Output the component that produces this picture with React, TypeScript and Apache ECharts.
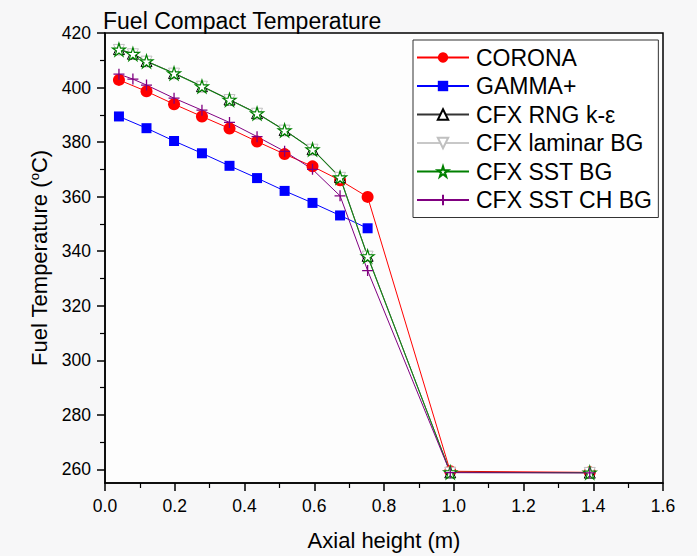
import React, { useEffect, useRef } from "react";
import * as echarts from "echarts";

// ---- data ----
const xMain = [0.04, 0.119, 0.198, 0.278, 0.357, 0.436, 0.515, 0.595, 0.674, 0.753, 0.99, 1.39];
const xGamma = [0.04, 0.119, 0.198, 0.278, 0.357, 0.436, 0.515, 0.595, 0.674, 0.753];
const xCfx = [0.04, 0.08, 0.119, 0.198, 0.278, 0.357, 0.436, 0.515, 0.595, 0.674, 0.753, 0.99, 1.39];

const corona = [402.8, 398.6, 393.9, 389.4, 385.0, 380.2, 375.6, 371.1, 366.0, 359.9, 259.3, 258.9];
const gamma = [389.4, 385.1, 380.4, 375.9, 371.3, 366.8, 362.1, 357.7, 353.1, 348.4];
const cfxRng = [414.1, 412.4, 409.7, 405.3, 400.5, 395.6, 390.6, 384.4, 377.4, 367.2, 338.3, 258.9, 258.8];
const cfxLaminar = [413.8, 412.2, 409.5, 405.1, 400.3, 395.4, 390.4, 384.2, 377.2, 366.9, 338.0, 258.8, 258.7];
const cfxSst = [413.9, 412.3, 409.6, 405.2, 400.4, 395.5, 390.5, 384.3, 377.3, 367.0, 338.1, 258.9, 258.8];
const cfxSstCh = [404.9, 403.1, 400.9, 396.1, 391.7, 387.2, 382.0, 376.6, 370.0, 360.3, 332.9, 258.8, 258.7];

const yMajorTicks = [260, 280, 300, 320, 340, 360, 380, 400, 420];
const yMinorTicks = [270, 290, 310, 330, 350, 370, 390, 410];

const FONT = "'Liberation Sans', Arial, sans-serif";

const STAR = "path://M50,2 L61,36 L97,36 L68,57 L79,92 L50,70 L21,92 L32,57 L3,36 L39,36 Z";
const PLUS = "path://M5,0 L5,10 M0,5 L10,5";
const DOWN_TRI = "path://M0,0 L10,0 L5,9 Z";

const zip = (xs: number[], ys: number[]) => xs.map((x, i) => [x, ys[i]]);

export default function App() {
  const ref = useRef<HTMLDivElement>(null);
  useEffect(() => {
    if (!ref.current) return;
    const chart = echarts.init(ref.current, null, { renderer: "svg" });
    const mk = (
      name: string,
      xs: number[],
      ys: number[],
      color: string,
      symbol: string,
      size: number,
      fill: string,
      border: string,
      bw: number
    ) => ({
      name,
      type: "line",
      data: zip(xs, ys),
      symbol,
      symbolSize: size,
      showAllSymbol: true,
      lineStyle: { color, width: 1 },
      itemStyle: { color: fill, borderColor: border, borderWidth: bw },
      color,
      emphasis: { disabled: true },
    });
    chart.setOption({
      animation: false,
      backgroundColor: "#f7f7f8",
      textStyle: { fontFamily: FONT },
      title: {
        text: "Fuel Compact Temperature",
        left: 98,
        top: 4,
        textStyle: { fontFamily: FONT, fontSize: 23, fontWeight: "normal", color: "#000" },
      },
      legend: {
        orient: "vertical",
        left: 413,
        top: 40,
        padding: [6, 6, 6, 3],
        itemWidth: 52,
        itemHeight: 13,
        itemGap: 5.5,
        backgroundColor: "#fff",
        borderColor: "#333",
        borderWidth: 1,
        textStyle: { fontFamily: FONT, fontSize: 23, color: "#000", padding: [0, 0, 0, 2] },
        data: ["CORONA", "GAMMA+", "CFX RNG k-ε", "CFX laminar BG", "CFX SST BG", "CFX SST CH BG"],
      },
      grid: {
        left: 105,
        right: 34,
        top: 33,
        bottom: 73,
        show: true,
        backgroundColor: "#fdfdfd",
        borderColor: "#000",
        borderWidth: 1.5,
      },
      xAxis: {
        type: "value",
        min: 0,
        max: 1.6,
        interval: 0.2,
        name: "Axial height (m)",
        nameLocation: "middle",
        nameGap: 46,
        nameTextStyle: { fontFamily: FONT, fontSize: 22, color: "#000" },
        axisLine: { show: true, lineStyle: { color: "#000", width: 1.5 } },
        axisTick: { show: true, inside: false, length: 8, lineStyle: { color: "#000", width: 1.5 } },
        minorTick: { show: true, splitNumber: 2, length: 5, lineStyle: { color: "#000", width: 1.2 } },
        axisLabel: {
          margin: 14,
          fontFamily: FONT,
          fontSize: 17.5,
          color: "#000",
          formatter: (v: number) => v.toFixed(1),
        },
        splitLine: { show: false },
        minorSplitLine: { show: false },
      },
      yAxis: [
        {
          type: "value",
          min: 255,
          max: 420,
          name: "Fuel Temperature ({sup|o}C)",
          nameLocation: "middle",
          nameGap: 52,
          nameRotate: 90,
          nameTextStyle: {
            fontFamily: FONT,
            fontSize: 22,
            color: "#000",
            rich: {
              sup: { fontFamily: FONT, fontSize: 13, color: "#000", padding: [0, 0, 10, 0] },
            },
          },
          axisLine: { show: true, lineStyle: { color: "#000", width: 1.5 } },
          axisTick: {
            show: true,
            inside: false,
            length: 8,
            customValues: yMajorTicks,
            lineStyle: { color: "#000", width: 1.5 },
          },
          axisLabel: {
            margin: 14,
            fontFamily: FONT,
            fontSize: 17.5,
            color: "#000",
            customValues: yMajorTicks,
          },
          splitLine: { show: false },
        },
        {
          type: "value",
          min: 255,
          max: 420,
          position: "left",
          offset: 0,
          axisLine: { show: false },
          axisTick: {
            show: true,
            inside: false,
            length: 5,
            customValues: yMinorTicks,
            lineStyle: { color: "#000", width: 1.2 },
          },
          axisLabel: { show: false },
          splitLine: { show: false },
        },
      ],
      series: [
        mk("CORONA", xMain, corona, "#ff0000", "circle", 12, "#ff0000", "#ff0000", 0),
        mk("GAMMA+", xGamma, gamma, "#0000ff", "rect", 10, "#0000ff", "#0000ff", 0),
        mk("CFX RNG k-ε", xCfx, cfxRng, "#333333", "triangle", 11, "#ffffff", "#000000", 1),
        mk("CFX laminar BG", xCfx, cfxLaminar, "#c8c8c8", DOWN_TRI, 11, "#ffffff", "#c0c0c0", 1),
        mk("CFX SST BG", xCfx, cfxSst, "#008000", STAR, 13, "#ffffff", "#008000", 1.2),
        mk("CFX SST CH BG", xCfx, cfxSstCh, "#800080", PLUS, 11, "none", "#800080", 1.3),
      ],
    });
    return () => chart.dispose();
  }, []);
  return (
    <div
      ref={ref}
      style={{ position: "fixed", left: 0, top: 0, width: 697, height: 556 }}
    />
  );
}
